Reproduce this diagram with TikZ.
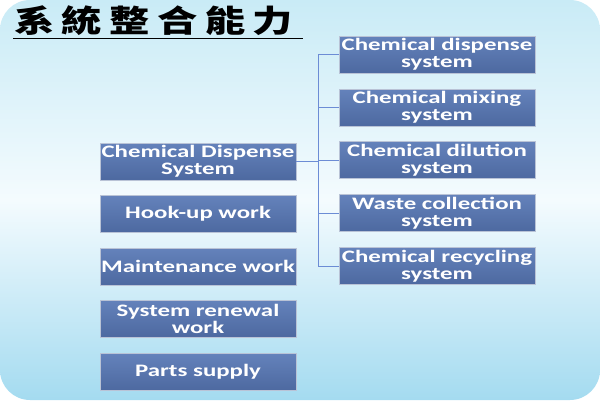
\documentclass[tikz,border=0pt]{standalone}
\usepackage{fontspec}
\setmainfont{Carlito}[FakeStretch=1.42]
\newfontfamily\cjk{Noto Sans CJK TC}[FakeStretch=1.3,LetterSpace=24]
\definecolor{bgtop}{HTML}{C9EBF6}
\definecolor{bgmid}{HTML}{F4FBFE}
\definecolor{bgbot}{HTML}{A4DBF0}
\definecolor{boxtop}{HTML}{6482BB}
\definecolor{boxbot}{HTML}{4D69A0}
\definecolor{boxedge}{HTML}{B9C3D6}
\definecolor{linkblue}{HTML}{6C8CD5}
\tikzset{
  item/.style={draw=boxedge, line width=.8pt, top color=boxtop, bottom color=boxbot,
    minimum width=196pt, minimum height=37pt, inner sep=0pt, text=white,
    align=center, font=\fontsize{17.5}{17}\selectfont\bfseries},
  link/.style={draw=linkblue, line width=.9pt}
}
\begin{document}
\begin{tikzpicture}[x=1pt, y=-1pt]
\useasboundingbox (0,0) rectangle (600,400);
\shade[rounded corners=30pt, top color=bgtop, bottom color=bgbot, middle color=bgmid] (0,0) rectangle (600,400);
% title
\node (title) [anchor=base west, inner sep=0pt] at (14,32) {\cjk\fontsize{31}{31}\selectfont\bfseries 系統整合能力};
\draw[line width=1.4pt] (13,38.5) -- (303,38.5);
% left column
\node[item] (cds) at (198,161.5) {Chemical Dispense\\System};
\node[item] (hook) at (198,214) {Hook-up work};
\node[item] (maint) at (198,266.5) {Maintenance work};
\node[item] (renew) at (198,318.5) {System renewal\\work};
\node[item] (parts) at (198,372) {Parts supply};
% right column
\node[item] (disp) at (437,54.5) {Chemical dispense\\system};
\node[item] (mix) at (437,107.5) {Chemical mixing\\system};
\node[item] (dil) at (437,160) {Chemical dilution\\system};
\node[item] (waste) at (437,213) {Waste collection\\system};
\node[item] (recyc) at (437,266) {Chemical recycling\\system};
% links
\coordinate (bus) at (318,0);
\draw[link] (cds.east) -- (cds.east -| bus);
\foreach \n in {disp,mix,dil,waste,recyc}
  \draw[link] (\n.west) -- (\n.west -| bus);
\draw[link] (disp.west -| bus) -- (recyc.west -| bus);
\end{tikzpicture}
\end{document}
